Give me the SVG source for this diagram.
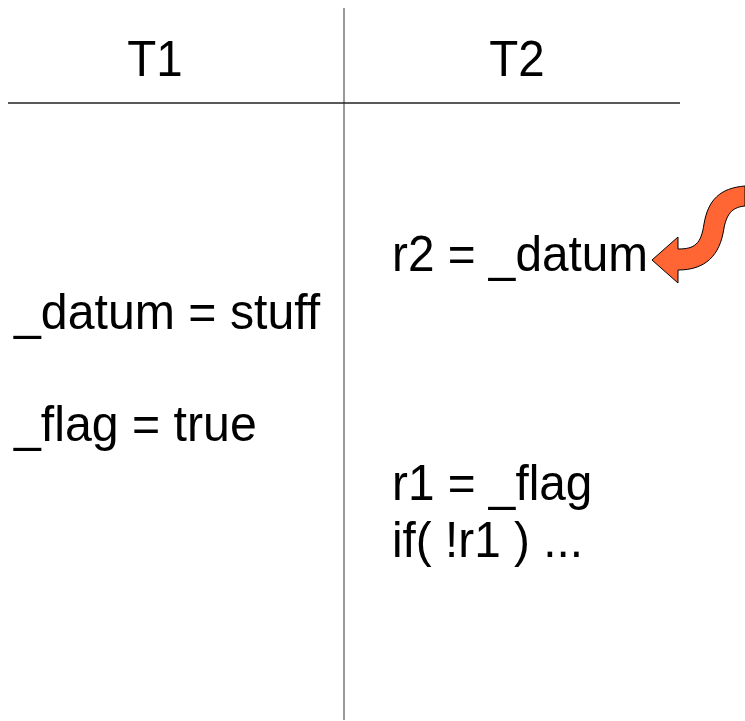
<svg xmlns="http://www.w3.org/2000/svg" width="745" height="721" viewBox="0 0 745 721">
<style>
.t{font-family:"Liberation Sans",Arial,sans-serif;font-size:50px;fill:#000}
.h{text-anchor:middle}
</style>
<rect width="745" height="721" fill="#fff"/>
<g id="lines">
<line x1="344" y1="8" x2="344" y2="720" stroke="#777" stroke-width="1.5"/>
<line x1="8" y1="103" x2="680" y2="103" stroke="#222" stroke-width="1.5"/>
</g>
<g id="headers">
<text class="t h" transform="translate(155,76) scale(0.95,1)">T1</text>
<text class="t h" transform="translate(517,76) scale(0.95,1)">T2</text>
</g>
<g id="t1">
<text class="t" transform="translate(14,329) scale(0.965,1)">_datum = stuff</text>
<text class="t" transform="translate(14,441) scale(0.965,1)">_flag = true</text>
</g>
<g id="t2">
<text class="t" transform="translate(392,271) scale(0.955,1)">r2 = _datum</text>
<text class="t" transform="translate(392,500) scale(0.955,1)">r1 = _flag</text>
<text class="t" transform="translate(392,557) scale(0.955,1)">if( !r1 ) ...</text>
</g>
<g id="connectors">
<path d="M 652,260 L 678,237 L 678,249 C 695,249 701,244 704,224 C 708,200 720,188 745,186 L 745,206 C 734,207 727,212 724,228 C 720,256 705,270 678,270 L 678,283 Z" fill="#FF6633" stroke="#000" stroke-width="1"/>
</g>
</svg>
